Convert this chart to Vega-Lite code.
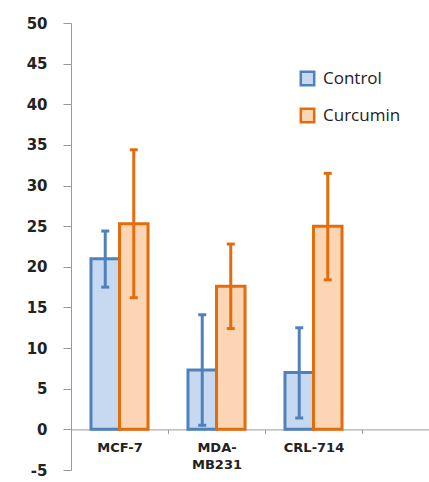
{
  "$schema": "https://vega.github.io/schema/vega-lite/v6.json",
  "width": 358,
  "height": 447,
  "autosize": {"type": "none"},
  "padding": {"left": 71, "top": 23, "right": 0, "bottom": 12},
  "background": "white",
  "config": {"view": {"stroke": null}},
  "data": {
    "values": [
      {"cell": "MCF-7", "group": "Control", "value": 21.0, "lo": 17.5, "hi": 24.4},
      {"cell": "MCF-7", "group": "Curcumin", "value": 25.3, "lo": 16.2, "hi": 34.4},
      {"cell": "MDA-MB231", "group": "Control", "value": 7.3, "lo": 0.5, "hi": 14.1},
      {"cell": "MDA-MB231", "group": "Curcumin", "value": 17.6, "lo": 12.4, "hi": 22.8},
      {"cell": "CRL-714", "group": "Control", "value": 7.0, "lo": 1.4, "hi": 12.5},
      {"cell": "CRL-714", "group": "Curcumin", "value": 25.0, "lo": 18.4, "hi": 31.5}
    ]
  },
  "encoding": {
    "x": {
      "field": "cell",
      "type": "nominal",
      "sort": ["MCF-7", "MDA-MB231", "CRL-714"],
      "scale": {"paddingInner": 0, "paddingOuter": 0.3454, "align": 0},
      "axis": {
        "title": null,
        "orient": "bottom",
        "offset": -40.6,
        "labelAngle": 0,
        "labelFont": "DejaVu Sans",
        "labelFontWeight": "bold",
        "labelFontSize": 13,
        "labelColor": "#222222",
        "labelPadding": 8,
        "labelExpr": "datum.label == 'MDA-MB231' ? ['MDA-', 'MB231'] : datum.label",
        "labelLineHeight": 17,
        "tickBand": "extent",
        "tickSize": 4,
        "tickColor": "#999999",
        "domainColor": "#999999",
        "domainWidth": 1
      }
    },
    "xOffset": {
      "field": "group",
      "type": "nominal",
      "sort": ["Control", "Curcumin"],
      "scale": {"paddingInner": 0, "paddingOuter": 0.7}
    }
  },
  "layer": [
    {
      "mark": {"type": "bar", "strokeWidth": 3},
      "encoding": {
        "y": {
          "field": "value",
          "type": "quantitative",
          "scale": {"domain": [-5, 50], "nice": false, "zero": false},
          "axis": {
            "title": null,
            "values": [-5, 0, 5, 10, 15, 20, 25, 30, 35, 40, 45, 50],
            "labelExpr": "datum.value < 0 ? '-' + abs(datum.value) : datum.label",
            "grid": false,
            "labelFont": "DejaVu Sans",
            "labelFontWeight": "bold",
            "labelFontSize": 15,
            "labelColor": "#222222",
            "labelPadding": 16,
            "tickSize": 8,
            "tickColor": "#999999",
            "domainColor": "#999999"
          }
        },
        "fill": {
          "field": "group",
          "type": "nominal",
          "scale": {"domain": ["Control", "Curcumin"], "range": ["#c6d9f1", "#fcd5b5"]},
          "legend": {
            "title": null,
            "orient": "none",
            "legendX": 228,
            "legendY": 47,
            "symbolType": "square",
            "symbolSize": 180,
            "symbolStrokeWidth": 2.5,
            "labelFont": "Open Sans",
            "labelFontSize": 17,
            "labelColor": "#222222",
            "labelOffset": 7,
            "rowPadding": 12
          }
        },
        "stroke": {
          "field": "group",
          "type": "nominal",
          "scale": {"domain": ["Control", "Curcumin"], "range": ["#4f81bd", "#e46c0a"]}
        }
      }
    },
    {
      "mark": {"type": "rule", "strokeWidth": 3},
      "encoding": {
        "y": {"field": "lo", "type": "quantitative"},
        "y2": {"field": "hi"},
        "color": {
          "field": "group",
          "type": "nominal",
          "scale": {"domain": ["Control", "Curcumin"], "range": ["#4f81bd", "#e46c0a"]},
          "legend": null
        }
      }
    },
    {
      "mark": {"type": "tick", "thickness": 3, "size": 8, "opacity": 1},
      "encoding": {
        "y": {"field": "lo", "type": "quantitative"},
        "color": {
          "field": "group",
          "type": "nominal",
          "scale": {"domain": ["Control", "Curcumin"], "range": ["#4f81bd", "#e46c0a"]},
          "legend": null
        }
      }
    },
    {
      "mark": {"type": "tick", "thickness": 3, "size": 8, "opacity": 1},
      "encoding": {
        "y": {"field": "hi", "type": "quantitative"},
        "color": {
          "field": "group",
          "type": "nominal",
          "scale": {"domain": ["Control", "Curcumin"], "range": ["#4f81bd", "#e46c0a"]},
          "legend": null
        }
      }
    }
  ]
}
